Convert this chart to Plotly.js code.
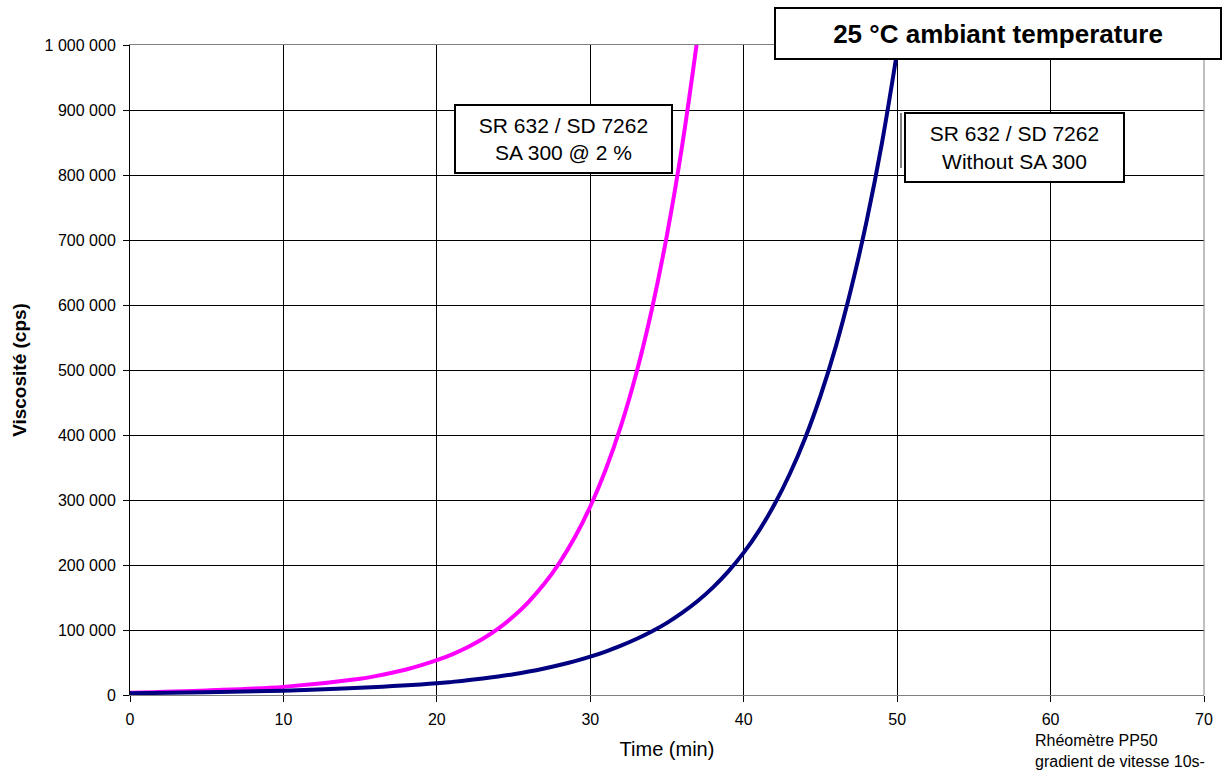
<!DOCTYPE html>
<html>
<head>
<meta charset="utf-8">
<script src="https://cdn.plot.ly/plotly-3.0.1.min.js"></script>
<style>html,body{margin:0;padding:0;background:#fff;}#chart{width:1224px;height:776px;}</style>
</head>
<body>
<div id="chart"></div>
<script>
// Series: SR 632 / SD 7262 with SA 300 @ 2 %
const timeWithSA = [0, 5, 10, 15, 16, 17, 18, 19, 20, 21, 22, 23, 24, 25, 26, 27, 28, 29, 30, 31, 32, 33, 34, 35, 36, 37];
const viscWithSA = [3500, 7000, 12500, 25000, 29000, 33800, 39300, 45900, 53500, 62600, 73500, 86500, 102000, 121000, 143800, 171000, 203800, 243000, 290000, 346500, 414000, 495000, 592000, 708000, 847000, 1013000];

// Series: SR 632 / SD 7262 without SA 300
const timeWithout = [0, 5, 10, 15, 20, 21, 22, 23, 24, 25, 26, 27, 28, 29, 30, 31, 32, 33, 34, 35, 36, 37, 38, 39, 40, 41, 42, 43, 44, 45, 46, 47, 48, 49, 50];
const viscWithout = [2600, 4200, 6600, 11000, 18000, 20200, 22700, 25400, 28500, 32000, 36100, 40800, 46100, 52100, 59000, 66900, 75900, 86100, 97700, 111000, 126600, 144600, 165600, 190200, 219000, 253000, 293000, 340000, 395000, 460000, 536000, 625000, 728000, 848000, 990000];

const xTickVals = [0, 10, 20, 30, 40, 50, 60, 70];
const yTickVals = [0, 100000, 200000, 300000, 400000, 500000, 600000, 700000, 800000, 900000, 1000000];

const FONT = 'Liberation Sans, Arial, sans-serif';

const traces = [
  {x: timeWithSA, y: viscWithSA, mode: 'lines', line: {color: '#FF00FF', width: 4, shape: 'spline', smoothing: 1}, hoverinfo: 'skip'},
  {x: timeWithout, y: viscWithout, mode: 'lines', line: {color: '#000080', width: 4, shape: 'spline', smoothing: 1}, hoverinfo: 'skip'}
];

function px(xp){ return (xp - 130) / 1074; }
function py(yp){ return (695 - yp) / 650; }

const layout = {
  width: 1224, height: 776,
  margin: {l: 130, r: 20, t: 45, b: 81},
  paper_bgcolor: '#fff', plot_bgcolor: '#fff',
  showlegend: false,
  separators: ', ',
  font: {family: FONT, color: '#000', size: 16},
  xaxis: {
    range: [0, 70], tickvals: xTickVals, ticks: 'outside', ticklen: 6, tickcolor: '#000',
    showgrid: true, gridcolor: '#000', gridwidth: 1, zeroline: false,
    showline: true, linecolor: '#808080', linewidth: 1, mirror: true,
    tickfont: {size: 16, family: FONT}, ticklabelstandoff: 4,
    title: {text: 'Time (min)', font: {size: 20, family: FONT}, standoff: 14}
  },
  yaxis: {
    range: [0, 1000000], tickvals: yTickVals, tickformat: ',d', ticks: 'outside', ticklen: 6, tickcolor: '#000',
    showgrid: true, gridcolor: '#000', gridwidth: 1, zeroline: false,
    showline: true, linecolor: '#000', linewidth: 1,
    tickfont: {size: 16, family: FONT}, ticklabelstandoff: 4,
    title: {text: '<b>Viscosité (cps)</b>', font: {size: 19, family: FONT}, standoff: 12}
  },
  shapes: [
    {type: 'line', xref: 'paper', yref: 'paper', x0: 1, x1: 1, y0: 0, y1: 1, line: {color: '#808080', width: 1}},
    {type: 'line', xref: 'paper', yref: 'paper', x0: px(901), x1: px(901), y0: py(113), y1: py(168), line: {color: '#000', width: 1}}
  ],
  annotations: [
    {xref: 'paper', yref: 'paper', x: px(998), y: py(33.5), xanchor: 'center', yanchor: 'middle',
     text: '<b>25 °C ambiant temperature</b>', showarrow: false, font: {size: 26, family: FONT},
     bgcolor: '#fff', bordercolor: '#000', borderwidth: 2, borderpad: 0, width: 444, height: 49},
    {xref: 'paper', yref: 'paper', x: px(563.5), y: py(139), xanchor: 'center', yanchor: 'middle',
     text: 'SR 632 / SD 7262<br>SA 300 @ 2 %', showarrow: false, font: {size: 21, family: FONT},
     bgcolor: '#fff', bordercolor: '#000', borderwidth: 2, borderpad: 0, width: 215, height: 66},
    {xref: 'paper', yref: 'paper', x: px(1014.5), y: py(147.5), xanchor: 'center', yanchor: 'middle',
     text: 'SR 632 / SD 7262<br>Without SA 300', showarrow: false, font: {size: 21, family: FONT},
     bgcolor: '#fff', bordercolor: '#000', borderwidth: 2, borderpad: 0, width: 217, height: 67},
    {xref: 'paper', yref: 'paper', x: px(1033), y: py(751), xanchor: 'left', yanchor: 'middle', align: 'left',
     text: 'Rhéomètre PP50<br>gradient de vitesse 10s-', showarrow: false, font: {size: 16, family: FONT}}
  ]
};

Plotly.newPlot('chart', traces, layout, {displayModeBar: false, staticPlot: true});
</script>
</body>
</html>
